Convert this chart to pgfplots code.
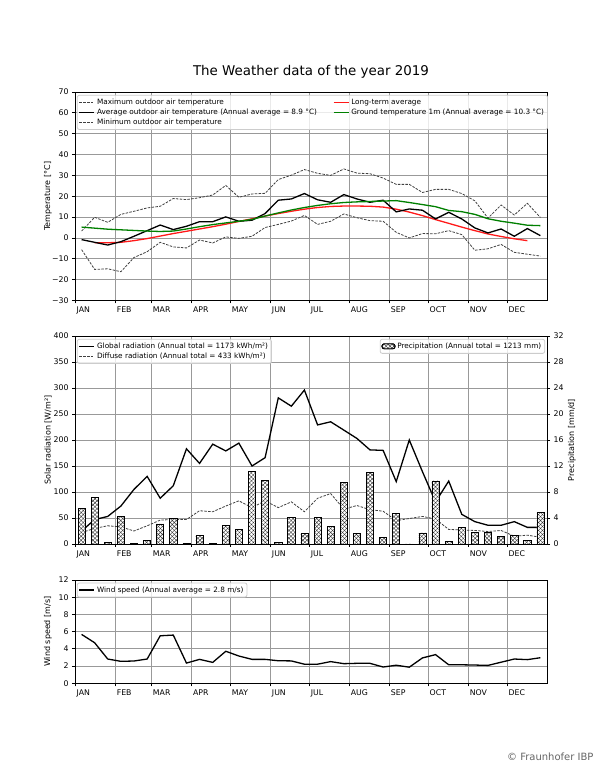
\documentclass[border=0pt]{standalone}
\usepackage{fontspec}
\setmainfont{DejaVu Sans}
\usepackage{pgfplots}
\pgfplotsset{compat=1.18}
\usepackage{pgfplotstable}
\usetikzlibrary{patterns.meta}

% day of year (centre of each 10-day period), temperatures in deg C
\pgfplotstableread{
day   maxT  avgT  minT   ltT   grT
5.1    3.3  -0.8  -5.6   nan   5.2
15.2   9.9  -2.1 -15.1  -2.3   4.7
25.3   7.5  -3.4 -14.8  -2.3   4.2
35.5  11.3  -1.8 -16.2  -2.1   3.9
45.6  12.8   0.8  -9.4  -1.3   3.6
55.8  14.4   3.5  -6.6  -0.3   3.3
65.9  15.2   6.2  -2.1   0.9   3.1
76.0  18.9   4.0  -4.3   2.1   3.3
86.2  18.4   5.6  -4.8   3.2   4.3
96.3  19.3   7.8  -1.0   4.3   5.4
106.5 20.6   7.8  -2.4   5.4   6.4
116.6 25.2  10.1   0.5   6.6   7.2
126.7 19.5   8.0  -0.2   7.9   8.0
136.9 21.1   8.5   0.8   9.2   8.9
147.0 21.4  11.7   5.0  10.5  10.5
157.2 28.0  18.1   6.5  11.7  12.0
167.3 30.1  18.7   8.1  12.8  13.4
177.4 32.8  21.3  10.8  13.8  14.6
187.6 31.0  18.3   6.5  14.6  15.6
197.7 30.0  17.1   8.0  15.1  16.4
207.9 33.1  20.8  11.5  15.3  17.0
218.0 31.1  18.7   9.7  15.3  17.3
228.1 30.8  17.1   8.3  15.2  17.5
238.3 28.7  18.1   8.0  14.8  17.7
248.4 25.7  12.5   2.7  13.8  17.9
258.5 25.7  13.9   0.0  12.4  17.0
268.7 21.8  13.3   2.1  10.7  16.0
278.8 23.3   9.1   2.0   8.8  15.0
289.0 23.3  12.3   3.5   7.0  13.2
299.1 21.3   9.1   1.6   5.2  12.6
309.2 17.8   4.8  -5.9   3.5  11.3
319.4  9.5   2.4  -5.2   1.9   9.2
329.5 15.8   4.3  -3.1   0.7   8.0
339.7 11.0   0.8  -6.9  -0.4   7.1
349.8 16.6   4.5  -7.8  -1.3   6.1
359.9  9.8   1.1  -8.7   nan   5.9
}\temps

% radiation in W/m2, precipitation in mm/d, wind in m/s
\pgfplotstableread{
day   glob diff prec  wind
5.1    25   22  5.5   5.68
15.2   47   30  7.2   4.71
25.3   53   35  0.3   2.82
35.5   73   33  4.3   2.55
45.6  105   25  0.15  2.59
55.8  130   35  0.5   2.82
65.9   88   46  3.1   5.52
76.0  112   47  3.9   5.60
86.2  183   47  0.08  2.35
96.3  155   64  1.3   2.78
106.5 192   62  0.05  2.43
116.6 179   73  2.9   3.72
126.7 194   83  2.3   3.17
136.9 150   70  11.2  2.78
147.0 166   83  9.8   2.78
157.2 281   70  0.3   2.62
167.3 265   81  4.1   2.60
177.4 296   62  1.6   2.22
187.6 229   88  4.1   2.22
197.7 235   97  2.7   2.52
207.9 219   67  9.5   2.28
218.0 203   74  1.6   2.32
228.1 181   66  11.0  2.32
238.3 180   63  1.0   1.89
248.4 120   45  4.7   2.10
258.5 200   49  0.0   1.87
268.7 139   53  1.7   2.95
278.8  81   48  9.7   3.33
289.0 121   28  0.4   2.15
299.1  57   27  2.5   2.15
309.2  43   26  1.8   2.12
319.4  36   24  1.8   2.08
329.5  36   26  1.2   2.45
339.7  43   15  1.3   2.82
349.8  32   17  0.5   2.75
359.9  32   13  4.8   2.97
}\rad

\pgfplotsset{
  wbase/.style={
    scale only axis, width=472pt,
    xmin=0, xmax=365,
    xtick={0,31,59,90,120,151,181,212,243,273,304,334},
    xticklabels={JAN,FEB,MAR,APR,MAY,JUN,JUL,AUG,SEP,OCT,NOV,DEC},
    xticklabel style={anchor=north west, inner xsep=1.5pt},
    tick label style={font=\fontsize{7.8}{9}\selectfont},
    label style={font=\fontsize{8}{10}\selectfont},
    ylabel style={at={(axis description cs:-0.0572,0.5)}, anchor=center},
    /pgf/number format/assume math mode=true,
    tick align=outside, major tick length=3pt,
    xtick pos=left, ytick pos=left,
    grid=major, major grid style={draw=black!40, line width=0.8pt},
    axis line style={line width=0.8pt},
    every tick/.style={black, line width=0.8pt},
    legend cell align=left,
    legend style={font=\fontsize{7.3}{8.8}\selectfont, draw=black!20, line width=0.8pt,
      rounded corners=2pt, fill=white, fill opacity=0.8, draw opacity=1, text opacity=1,
      inner sep=1.5pt, row sep=-1pt},
    legend image code/.code={\draw[##1] (0pt,0pt) -- (15pt,0pt);},
  },
  dashl/.style={black!75, line width=0.8pt, dash pattern=on 2.5pt off 1.3pt},
  soll/.style={line width=1.3pt},
  barleg/.style={legend image code/.code={\draw[##1] (0pt,-2.5pt) rectangle (13pt,2.5pt);}},
  hatch/.style={fill=white,
    postaction={pattern={Lines[angle=45,distance=2.8pt,line width=0.4pt]}, pattern color=black!85},
    postaction={pattern={Lines[angle=-45,distance=2.8pt,line width=0.4pt]}, pattern color=black!85}},
}

\begin{document}
\begin{tikzpicture}
\useasboundingbox (0pt,0pt) rectangle (608pt,768pt);
\fill[white] (0pt,0pt) rectangle (608pt,768pt);
\node[font=\fontsize{13.4}{16}\selectfont] at (311pt,696pt) {The Weather data of the year 2019};

% temperatures
\begin{axis}[wbase, at={(75pt,467.5pt)}, anchor=south west, height=208.5pt,
  ymin=-30, ymax=70, ytick={-30,-20,...,70},
  yticklabels={−30,−20,−10,0,10,20,30,40,50,60,70},
  ylabel={Temperature [°C]},
  legend columns=2,
  legend style={at={(axis description cs:0.004,0.986)}, anchor=north west,
    /tikz/every even column/.append style={column sep=14pt}}]
\addplot[dashl] table[x=day,y=maxT] \temps;
\addlegendentry{Maximum outdoor air temperature}
\addplot[soll, red!90!white] table[x=day,y=ltT] \temps;
\addlegendentry{Long-term average}
\addplot[soll, black] table[x=day,y=avgT] \temps;
\addlegendentry{Average outdoor air temperature (Annual average = 8.9 °C)}
\addplot[soll, green!50!black] table[x=day,y=grT] \temps;
\addlegendentry{Ground temperature 1m (Annual average = 10.3 °C)}
\addplot[dashl] table[x=day,y=minT] \temps;
\addlegendentry{Minimum outdoor air temperature}
\end{axis}

% radiation
\begin{axis}[wbase, at={(75pt,224pt)}, anchor=south west, height=208pt,
  ymin=0, ymax=400, ytick={0,50,...,400},
  ylabel={Solar radiation [W/m²]},
  legend style={at={(axis description cs:0.004,0.986)}, anchor=north west}]
\addplot[soll, black] table[x=day,y=glob] \rad;
\addlegendentry{Global radiation (Annual total = 1173 kWh/m²)}
\addplot[dashl] table[x=day,y=diff] \rad;
\addlegendentry{Diffuse radiation (Annual total = 433 kWh/m²)}
\end{axis}

% precipitation on the right axis
\begin{axis}[scale only axis, width=472pt, height=208pt, at={(75pt,224pt)}, anchor=south west,
  xmin=0, xmax=365, axis x line=none, axis y line*=right,
  ymin=0, ymax=32, ytick={0,4,...,32},
  tick label style={font=\fontsize{7.8}{9}\selectfont},
  label style={font=\fontsize{8}{10}\selectfont},
  ylabel={Precipitation [mm/d]},
  ylabel style={at={(axis description cs:1.053,0.5)}, anchor=center},
  /pgf/number format/assume math mode=true,
  tick align=outside, major tick length=3pt,
  axis line style={line width=0.8pt},
  every tick/.style={black, line width=0.8pt},
  legend style={font=\fontsize{7.3}{8.8}\selectfont, draw=black!20, line width=0.8pt,
    rounded corners=2pt, fill=white, fill opacity=0.8, draw opacity=1, text opacity=1,
    inner sep=1.5pt, at={(axis description cs:0.996,0.986)}, anchor=north east}]
\addplot[ybar, bar width=5.5, bar shift=0pt, draw=black, line width=0.6pt, hatch, barleg]
  table[x=day,y=prec] \rad;
\addlegendentry{Precipitation (Annual total = 1213 mm)}
\end{axis}

% wind
\begin{axis}[wbase, at={(75pt,84.7pt)}, anchor=south west, height=103.3pt,
  ymin=0, ymax=12, ytick={0,2,...,12},
  ylabel={Wind speed [m/s]},
  legend style={at={(axis description cs:0.004,0.975)}, anchor=north west}]
\addplot[soll, black] table[x=day,y=wind] \rad;
\addlegendentry{Wind speed (Annual average = 2.8 m/s)}
\end{axis}

\node[anchor=east, text=black!60, font=\fontsize{10}{12}\selectfont] at (597pt,11pt) {© Fraunhofer IBP};
\end{tikzpicture}
\end{document}
